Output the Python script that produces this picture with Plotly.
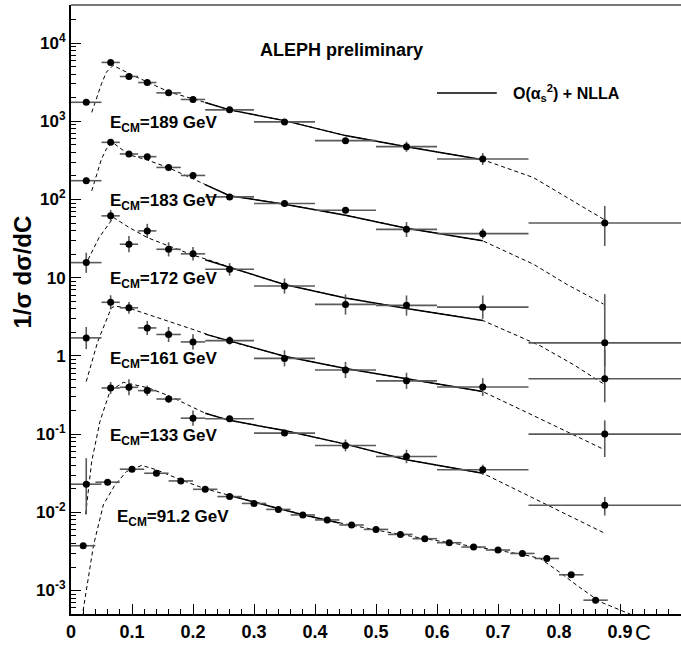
import plotly.graph_objects as go

# ---------------- data ----------------
# LEP2 bins (C)
lep2_edges = [0.0, 0.05, 0.08, 0.11, 0.14, 0.18, 0.22, 0.30, 0.40, 0.50, 0.60, 0.75, 1.0]
c_lep2 = [0.025, 0.065, 0.095, 0.125, 0.16, 0.2, 0.26, 0.35, 0.45, 0.55, 0.675, 0.875]

y189 = [1750, 5660, 3740, 3130, 2310, 1900, 1400, 982, 566, 474, 330, 50]
y183 = [174, 538, 382, 353, 257, 203, 108, 89, 73, 41.5, 36.6, 1.47]
y172 = [15.6, 61.8, 26.8, 39.7, 23.1, 20.2, 12.8, 7.83, 4.56, 4.43, 4.2, 0.51]
y161 = [1.70, 4.85, 4.12, 2.28, 1.88, 1.51, 1.57, 0.93, 0.66, 0.48, 0.40, 0.10]
y133 = [0.0229, 0.389, 0.397, 0.36, 0.281, 0.16, 0.157, 0.103, 0.0716, 0.0518, 0.035, 0.0123]

# relative errors (up / down)
e189_up = [0.08, 0.06, 0.06, 0.06, 0.06, 0.06, 0.06, 0.06, 0.08, 0.16, 0.19, 0.65]
e189_dn = [0.07, 0.06, 0.06, 0.06, 0.06, 0.06, 0.06, 0.06, 0.07, 0.14, 0.16, 0.49]
e183_up = [0.10, 0.08, 0.08, 0.08, 0.08, 0.08, 0.08, 0.08, 0.10, 0.24, 0.16, 3.2]
e183_dn = [0.09, 0.07, 0.07, 0.07, 0.07, 0.07, 0.07, 0.07, 0.09, 0.20, 0.14, 0.50]
e172_up = [0.34, 0.19, 0.27, 0.23, 0.23, 0.22, 0.20, 0.25, 0.34, 0.34, 0.41, 1.35]
e172_dn = [0.26, 0.16, 0.21, 0.19, 0.19, 0.18, 0.17, 0.20, 0.26, 0.26, 0.29, 0.50]
e161_up = [0.38, 0.23, 0.19, 0.23, 0.25, 0.25, 0.13, 0.27, 0.27, 0.27, 0.30, 0.50]
e161_dn = [0.28, 0.19, 0.16, 0.19, 0.20, 0.20, 0.11, 0.21, 0.21, 0.21, 0.23, 0.49]
e133_up = [1.15, 0.19, 0.27, 0.16, 0.13, 0.25, 0.09, 0.09, 0.19, 0.22, 0.16, 0.28]
e133_dn = [0.59, 0.16, 0.21, 0.14, 0.11, 0.20, 0.08, 0.08, 0.16, 0.18, 0.14, 0.26]

# LEP1 (91.2 GeV) bins
lep1_edges = [0.0, 0.04, 0.08, 0.12, 0.16, 0.20, 0.24, 0.28, 0.32, 0.36, 0.40, 0.44,
              0.48, 0.52, 0.56, 0.60, 0.64, 0.68, 0.72, 0.76, 0.80, 0.84, 0.88]
c91 = [0.02, 0.06, 0.10, 0.14, 0.18, 0.22, 0.26, 0.30, 0.34, 0.38, 0.42,
       0.46, 0.50, 0.54, 0.58, 0.62, 0.66, 0.70, 0.74, 0.78, 0.82, 0.86]
y91 = [0.00374, 0.0243, 0.0356, 0.0316, 0.0252, 0.0197, 0.0159, 0.0130, 0.0109, 0.00926, 0.0080,
       0.00689, 0.00605, 0.00522, 0.0046, 0.00409, 0.0036, 0.0033, 0.00298, 0.00257, 0.00159, 0.000753]
e91 = [0.03] * 22

# theory curves: dashed (full range) and solid O(as^2)+NLLA (fit range)
d189_c = [0.034, 0.042, 0.05, 0.058, 0.069, 0.102, 0.127, 0.162, 0.2, 0.22, 0.26, 0.35, 0.45, 0.55, 0.675, 0.758, 0.813, 0.873]
d189_y = [1300, 2030, 3020, 4250, 5180, 3850, 3160, 2350, 1940, 1740, 1400, 1020, 656, 474, 323, 191, 106, 56]
s189_c = [0.22, 0.26, 0.35, 0.45, 0.55, 0.675]
s189_y = [1740, 1400, 1020, 656, 474, 323]

d183_c = [0.034, 0.042, 0.05, 0.058, 0.068, 0.095, 0.125, 0.16, 0.2, 0.22, 0.26, 0.35, 0.45, 0.55, 0.675, 0.758, 0.813, 0.873]
d183_y = [129, 212, 330, 443, 538, 374, 320, 255, 185, 155, 112, 87, 63, 43, 29.6, 14.9, 8.2, 4.6]
s183_c = [0.22, 0.26, 0.35, 0.45, 0.55, 0.675]
s183_y = [155, 112, 87, 63, 43, 29.6]

d172_c = [0.028, 0.046, 0.066, 0.07, 0.095, 0.125, 0.16, 0.2, 0.24, 0.26, 0.35, 0.45, 0.55, 0.675, 0.769, 0.823, 0.875]
d172_y = [17, 32.6, 53.7, 58.7, 44, 32.6, 25.5, 19.5, 15.5, 13.6, 8.2, 5.5, 4.05, 2.84, 1.35, 0.78, 0.43]
s172_c = [0.22, 0.26, 0.35, 0.45, 0.55, 0.675]
s172_y = [17, 13.6, 8.2, 5.5, 4.05, 2.84]

d161_c = [0.025, 0.044, 0.066, 0.072, 0.096, 0.127, 0.161, 0.2, 0.24, 0.261, 0.35, 0.45, 0.55, 0.675, 0.75, 0.875]
d161_y = [0.47, 1.54, 4.1, 4.33, 4.06, 3.39, 2.79, 2.18, 1.70, 1.54, 0.99, 0.69, 0.51, 0.35, 0.185, 0.063]
s161_c = [0.22, 0.261, 0.35, 0.45, 0.55, 0.675]
s161_y = [1.90, 1.54, 0.99, 0.69, 0.51, 0.35]

d133_c = [0.024, 0.034, 0.0475, 0.064, 0.086, 0.102, 0.127, 0.16, 0.2, 0.22, 0.26, 0.35, 0.45, 0.55, 0.675, 0.75, 0.875]
d133_y = [0.0095, 0.045, 0.146, 0.355, 0.46, 0.43, 0.39, 0.31, 0.22, 0.185, 0.15, 0.111, 0.0745, 0.047, 0.0316, 0.0163, 0.0054]
s133_c = [0.22, 0.26, 0.35, 0.45, 0.55, 0.675]
s133_y = [0.185, 0.15, 0.111, 0.0745, 0.047, 0.0316]

d91_c = [0.018, 0.023, 0.037, 0.053, 0.072, 0.091, 0.116, 0.14, 0.18, 0.22, 0.26, 0.34, 0.42, 0.50,
         0.58, 0.66, 0.74, 0.769, 0.80, 0.829, 0.867, 0.922, 0.95]
d91_y = [0.00045, 0.00079, 0.00382, 0.01245, 0.0224, 0.0333, 0.0398, 0.035, 0.026, 0.02, 0.0164, 0.0112,
         0.0079, 0.00594, 0.0046, 0.00363, 0.0029, 0.00257, 0.00174, 0.00117, 0.00072, 0.00048, 0.0004]
s91_c = [0.26, 0.30, 0.34, 0.38, 0.42, 0.44]
s91_y = [0.0164, 0.0134, 0.0112, 0.0093, 0.0079, 0.0073]

labels = ["189", "183", "172", "161", "133", "91.2"]
label_pos = [(0.061, 2.967), (0.061, 1.962), (0.061, 0.97), (0.061, -0.046), (0.061, -1.038), (0.072, -2.077)]

xtick_vals = [0, 0.1, 0.2, 0.3, 0.4, 0.5, 0.6, 0.7, 0.8, 0.9, 1.0]
xtick_text = ["0", "0.1", "0.2", "0.3", "0.4", "0.5", "0.6", "0.7", "0.8", "0.9", "1"]
ytick_vals = [1e-3, 1e-2, 1e-1, 1, 10, 1e2, 1e3, 1e4]
ytick_text = ["10<sup>-3</sup>", "10<sup>-2</sup>", "10<sup>-1</sup>", "1", "10",
              "10<sup>2</sup>", "10<sup>3</sup>", "10<sup>4</sup>"]

# ---------------- figure ----------------
FONT = "Liberation Sans"
BAR = "#5a5a5a"
fig = go.Figure()


def halfwidths(edges):
    return [(edges[i + 1] - edges[i]) / 2 for i in range(len(edges) - 1)]


curves = [(d189_c, d189_y, s189_c, s189_y), (d183_c, d183_y, s183_c, s183_y),
          (d172_c, d172_y, s172_c, s172_y), (d161_c, d161_y, s161_c, s161_y),
          (d133_c, d133_y, s133_c, s133_y), (d91_c, d91_y, s91_c, s91_y)]
for dc, dy, sc, sy in curves:
    fig.add_trace(go.Scatter(x=dc, y=dy, mode="lines", line=dict(color="black", width=1, dash="4px,3px"),
                             showlegend=False, hoverinfo="skip"))
    fig.add_trace(go.Scatter(x=sc, y=sy, mode="lines", line=dict(color="black", width=1.5),
                             showlegend=False, hoverinfo="skip"))

series = [(c_lep2, y189, e189_up, e189_dn, lep2_edges), (c_lep2, y183, e183_up, e183_dn, lep2_edges),
          (c_lep2, y172, e172_up, e172_dn, lep2_edges), (c_lep2, y161, e161_up, e161_dn, lep2_edges),
          (c_lep2, y133, e133_up, e133_dn, lep2_edges), (c91, y91, e91, e91, lep1_edges)]
for (cx, yy, eu, ed, edges), lab in zip(series, labels):
    fig.add_trace(go.Scatter(
        x=cx, y=yy, mode="markers", name=lab + " GeV",
        marker=dict(color="black", size=7, symbol="circle"),
        error_x=dict(type="data", array=halfwidths(edges), width=0, thickness=1.6, color=BAR),
        error_y=dict(type="data", symmetric=False,
                     array=[v * u for v, u in zip(yy, eu)],
                     arrayminus=[v * d for v, d in zip(yy, ed)],
                     width=0, thickness=1.6, color=BAR),
        showlegend=False))

annotations = []
for lab, (lx, ly) in zip(labels, label_pos):
    annotations.append(dict(x=lx, y=ly, xref="x", yref="y", xanchor="left", yanchor="middle",
                            text="E<sub>CM</sub>=" + lab + " GeV", showarrow=False,
                            font=dict(family=FONT, size=17, color="black", weight="bold")))
annotations += [
    dict(x=0.444, y=0.926, xref="paper", yref="paper", text="ALEPH preliminary", showarrow=False,
         xanchor="center", yanchor="middle", font=dict(family=FONT, size=18, color="black", weight="bold")),
    dict(x=0.722, y=0.8555, xref="paper", yref="paper", text="O(α<sub>s</sub><sup>2</sup>) + NLLA",
         showarrow=False, xanchor="left", yanchor="middle",
         font=dict(family=FONT, size=16, color="black", weight="bold")),
    dict(x=-0.079, y=0.562, xref="paper", yref="paper", text="1/σ dσ/dC", textangle=-90, showarrow=False,
         xanchor="center", yanchor="middle", font=dict(family=FONT, size=24, color="black", weight="bold")),
    dict(x=0.938, y=-0.03, xref="paper", yref="paper", text="C", showarrow=False,
         xanchor="center", yanchor="middle", font=dict(family=FONT, size=22, color="black")),
]

shapes = [
    dict(type="line", xref="paper", yref="paper", x0=0.6, x1=0.698, y0=0.8555, y1=0.8555,
         line=dict(color="black", width=1.5)),
    dict(type="line", xref="paper", yref="paper", x0=0, x1=1, y0=1, y1=1,
         line=dict(color="#777777", width=2)),
]

fig.update_layout(
    width=681, height=649,
    margin=dict(l=71, r=0, t=5, b=35),
    paper_bgcolor="white", plot_bgcolor="white",
    showlegend=False,
    annotations=annotations, shapes=shapes,
    xaxis=dict(range=[0, 1], tickmode="array", tickvals=xtick_vals, ticktext=xtick_text,
               ticks="inside", ticklen=10, tickwidth=1, tickcolor="black",
               minor=dict(dtick=0.02, tick0=0, ticks="inside", ticklen=5, tickcolor="black", showgrid=False),
               showline=True, linecolor="black", linewidth=2, showgrid=False, zeroline=False,
               tickfont=dict(family=FONT, size=18, color="black", weight="bold")),
    yaxis=dict(type="log", range=[-3.3, 4.487], tickmode="array", tickvals=ytick_vals, ticktext=ytick_text,
               ticks="inside", ticklen=10, tickwidth=1, tickcolor="black",
               minor=dict(dtick="D1", ticks="inside", ticklen=5, tickcolor="black", showgrid=False),
               showline=True, linecolor="black", linewidth=2, showgrid=False, zeroline=False,
               tickfont=dict(family=FONT, size=17, color="black", weight="bold")),
)

fig.write_html("out.html")
